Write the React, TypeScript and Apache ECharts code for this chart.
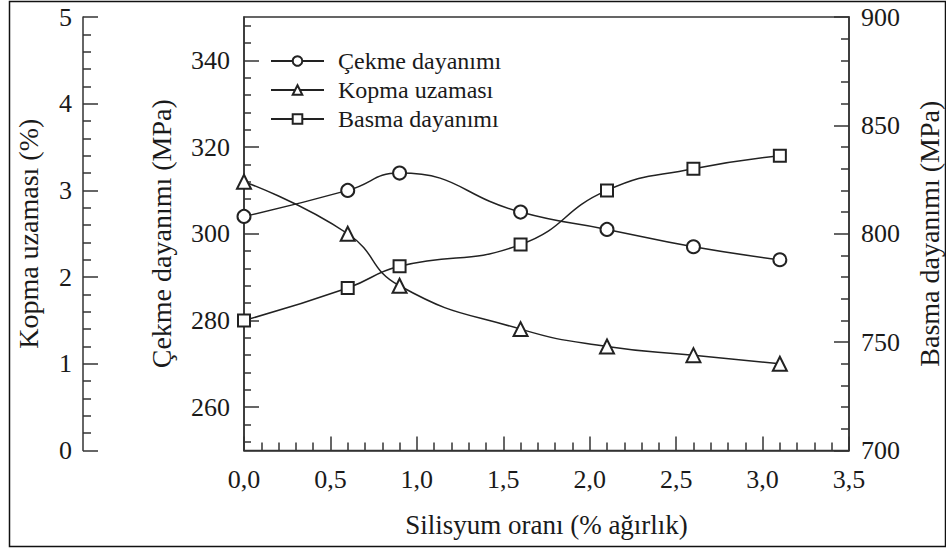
import React, { useEffect, useRef } from "react";
import * as echarts from "echarts";

const xValues = [0, 0.6, 0.9, 1.6, 2.1, 2.6, 3.1];
const cekmeValues = [304, 310, 314, 305, 301, 297, 294];
const kopmaValues = [3.1, 2.5, 1.9, 1.4, 1.2, 1.1, 1.0];
const basmaValues = [760, 775, 785, 795, 820, 830, 836];
const cekmeMajorTicks = [260, 280, 300, 320, 340];
const cekmeMinorTicks = [252, 256, 264, 268, 272, 276, 284, 288, 292, 296, 304, 308, 312, 316, 324, 328, 332, 336, 344, 348];
const seriesNames = ["Çekme dayanımı", "Kopma uzaması", "Basma dayanımı"];

const FONT = "Liberation Serif";
const INK = "#1a1a1a";
const AXIS = "#333";

export default function App() {
  const ref = useRef<HTMLDivElement>(null);
  useEffect(() => {
    document.body.style.margin = "0";
    if (!ref.current) return;
    const chart = echarts.init(ref.current, null, { renderer: "svg" });
    const axisLine = { show: true, lineStyle: { color: AXIS, width: 1.5 } };
    const label = { color: INK, fontFamily: FONT, fontSize: 26 };
    const nameStyle = { color: INK, fontFamily: FONT, fontSize: 28 };
    const toXY = (vals: number[]) => xValues.map((x, i) => [x, vals[i]]);
    const option: any = {
      animation: false,
      backgroundColor: "#fff",
      textStyle: { fontFamily: FONT },
      grid: {
        left: 244,
        right: 97,
        top: 17,
        bottom: 101.5,
        outerBoundsMode: "none",
        containLabel: false,
        show: true,
        borderColor: AXIS,
        borderWidth: 1.5,
        backgroundColor: "transparent",
      },
      legend: {
        orient: "vertical",
        left: 265,
        top: 44,
        itemWidth: 53,
        itemHeight: 12,
        itemGap: 5,
        data: seriesNames,
        textStyle: { color: INK, fontFamily: FONT, fontSize: 24, lineHeight: 24, padding: [0, 0, 0, 9] },
      },
      xAxis: {
        type: "value",
        min: 0,
        max: 3.5,
        interval: 0.5,
        name: "Silisyum oranı (% ağırlık)",
        nameLocation: "middle",
        nameGap: 61,
        nameTextStyle: { ...nameStyle, fontSize: 27 },
        axisLine,
        axisTick: { show: true, inside: true, length: 14, lineStyle: { color: AXIS, width: 1.5 } },
        minorTick: { show: true, splitNumber: 5, length: 8, lineStyle: { color: AXIS, width: 1.5 } },
        axisLabel: {
          ...label,
          margin: 16,
          formatter: (v: number) => v.toFixed(1).replace(".", ","),
        },
        splitLine: { show: false },
      },
      yAxis: [
        {
          type: "value",
          position: "left",
          min: 250,
          max: 350,
          name: "Çekme dayanımı (MPa)",
          nameLocation: "middle",
          nameGap: 69,
          nameTextStyle: nameStyle,
          axisLine,
          axisTick: {
            show: true,
            inside: true,
            length: 15,
            customValues: cekmeMajorTicks,
            lineStyle: { color: AXIS, width: 1.5 },
          },
          axisLabel: { ...label, margin: 14, customValues: cekmeMajorTicks },
          splitLine: { show: false },
        },
        {
          type: "value",
          position: "left",
          offset: 161,
          min: 0,
          max: 5,
          interval: 1,
          name: "Kopma uzaması (%)",
          nameLocation: "middle",
          nameGap: 41,
          nameTextStyle: nameStyle,
          axisLine,
          axisTick: { show: true, inside: true, length: 15, lineStyle: { color: AXIS, width: 1.5 } },
          minorTick: { show: true, splitNumber: 5, length: 8, lineStyle: { color: AXIS, width: 1.5 } },
          axisLabel: { ...label, margin: 11 },
          splitLine: { show: false },
        },
        {
          type: "value",
          position: "right",
          min: 700,
          max: 900,
          interval: 50,
          name: "Basma dayanımı (MPa)",
          nameLocation: "middle",
          nameGap: 66,
          nameTextStyle: nameStyle,
          axisLine,
          axisTick: { show: true, inside: true, length: 15, lineStyle: { color: AXIS, width: 1.5 } },
          minorTick: { show: true, splitNumber: 5, length: 8, lineStyle: { color: AXIS, width: 1.5 } },
          axisLabel: { ...label, margin: 12 },
          splitLine: { show: false },
        },
        {
          type: "value",
          position: "left",
          min: 250,
          max: 350,
          axisLine: { show: false },
          axisTick: {
            show: true,
            inside: true,
            length: 7,
            customValues: cekmeMinorTicks,
            lineStyle: { color: AXIS, width: 1.5 },
          },
          axisLabel: { show: false },
          splitLine: { show: false },
        },
      ],
      series: [
        {
          name: seriesNames[0],
          type: "line",
          yAxisIndex: 0,
          smooth: true,
          symbol: "emptyCircle",
          symbolSize: 13,
          color: "#222",
          lineStyle: { color: "#222", width: 1.5 },
          itemStyle: { borderWidth: 1.5 },
          data: toXY(cekmeValues),
        },
        {
          name: seriesNames[1],
          type: "line",
          yAxisIndex: 1,
          smooth: true,
          symbol: "emptyTriangle",
          symbolSize: 14,
          color: "#222",
          lineStyle: { color: "#222", width: 1.5 },
          itemStyle: { borderWidth: 1.5 },
          data: toXY(kopmaValues),
        },
        {
          name: seriesNames[2],
          type: "line",
          yAxisIndex: 2,
          smooth: true,
          symbol: "emptyRect",
          symbolSize: 12,
          color: "#222",
          lineStyle: { color: "#222", width: 1.5 },
          itemStyle: { borderWidth: 1.5 },
          data: toXY(basmaValues),
        },
      ],
      graphic: [
        {
          type: "rect",
          silent: true,
          shape: { x: 9.5, y: 1.5, width: 936, height: 545 },
          style: { fill: "none", stroke: "#111", lineWidth: 1.5 },
        },
      ],
    };
    chart.setOption(option);
    return () => chart.dispose();
  }, []);
  return <div ref={ref} style={{ width: 946, height: 552 }} />;
}
